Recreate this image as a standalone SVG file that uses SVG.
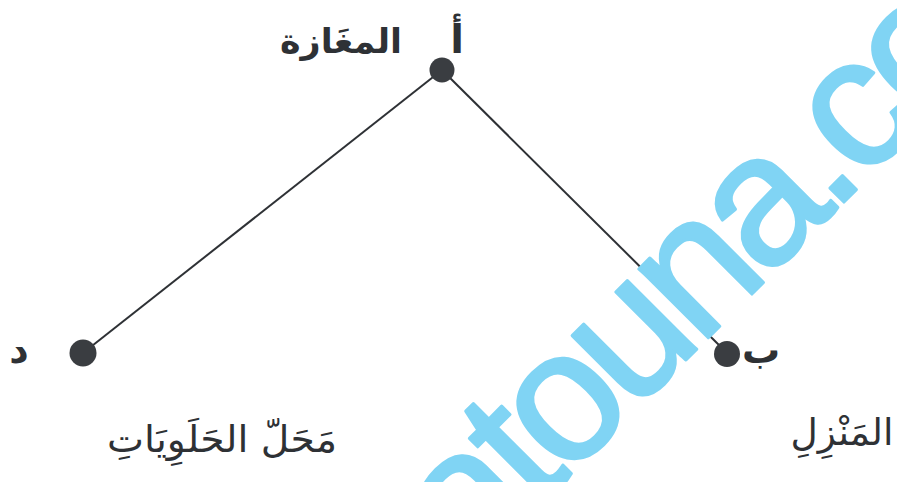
<svg xmlns="http://www.w3.org/2000/svg" width="897" height="482" viewBox="0 0 897 482">
<style>
.lbl{font-family:"DejaVu Sans",sans-serif;fill:#2e3135;text-anchor:middle}
.b{font-weight:bold}
.pt{fill:#3a3d41}
.edge{stroke:#2e3135;stroke-width:2;fill:none}
.wm{font-family:"Liberation Sans",Arial,sans-serif;fill:#80d4f4;stroke:#80d4f4;stroke-width:3;stroke-linejoin:round;font-size:185px;letter-spacing:-9px}
</style>
<rect width="897" height="482" fill="#ffffff"/>
<g id="connectors">
<line class="edge" x1="442" y1="70" x2="83" y2="353"/>
<line class="edge" x1="442" y1="70" x2="727" y2="353"/>
</g>
<g id="node-a">
<circle class="pt" cx="442" cy="70" r="12.5"/>
<text class="lbl b" x="457" y="53" font-size="40">أ</text>
<text class="lbl b" x="341" y="53" font-size="34" textLength="122" lengthAdjust="spacingAndGlyphs">المغَازة</text>
</g>
<g id="node-b">
<circle class="pt" cx="727" cy="354" r="13"/>
<text class="lbl b" x="761" y="363" font-size="38">ب</text>
<text class="lbl" x="842" y="445" font-size="37" textLength="103" lengthAdjust="spacingAndGlyphs">المَنْزِلِ</text>
</g>
<g id="node-d">
<circle class="pt" cx="83" cy="353" r="13.5"/>
<text class="lbl b" x="19" y="363" font-size="38">د</text>
<text class="lbl" x="222" y="452" font-size="37" textLength="230" lengthAdjust="spacingAndGlyphs">مَحَلّ الحَلَوِيَاتِ</text>
</g>
<text class="wm" x="470" y="576" transform="rotate(-45 470 576)">atouna.com</text>
</svg>
